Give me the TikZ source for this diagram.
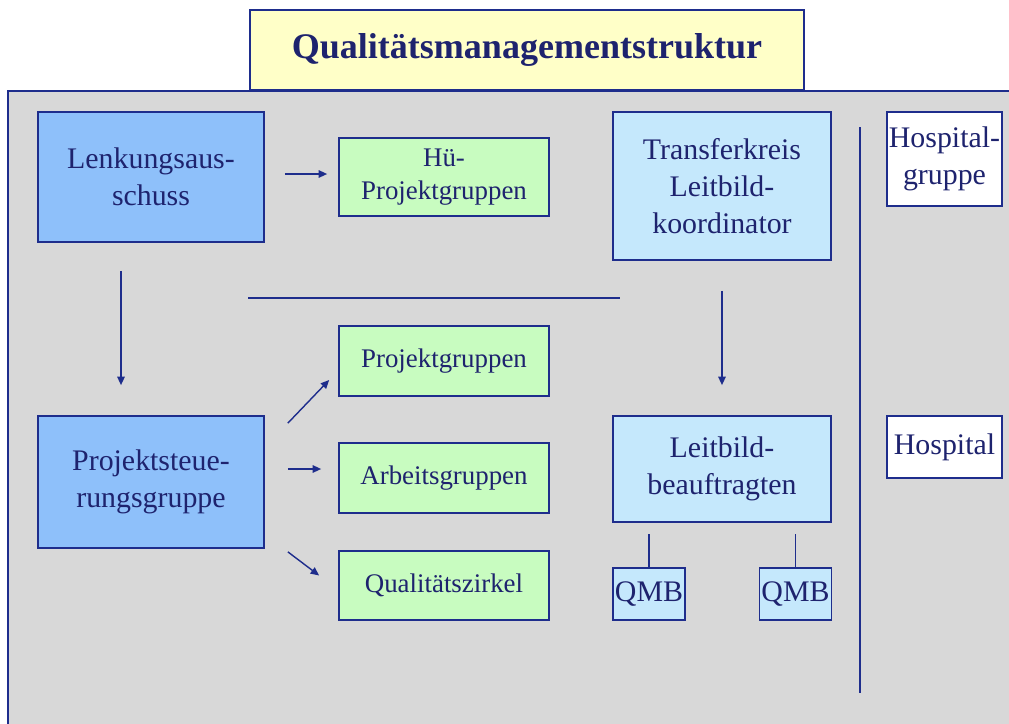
\documentclass[tikz,border=0pt]{standalone}
\usepackage{fontspec}
\setmainfont{Liberation Serif}
\usetikzlibrary{arrows.meta}

\definecolor{qmnavy}{RGB}{30,45,140}
\definecolor{qmtext}{RGB}{30,35,110}
\definecolor{qmgray}{RGB}{216,216,216}
\definecolor{qmblue}{RGB}{142,192,250}
\definecolor{qmcyan}{RGB}{197,232,252}
\definecolor{qmgreen}{RGB}{200,252,192}
\definecolor{qmyellow}{RGB}{255,255,200}

\tikzset{
  box/.style={draw=qmnavy, line width=1pt, text=qmtext, align=center, inner sep=0pt,
    font=\fontsize{17}{21}\selectfont},
  leadbox/.style={box, fill=qmblue, minimum width=4.52cm},
  groupbox/.style={box, fill=qmgreen, minimum width=4.2cm, minimum height=1.4cm,
    font=\fontsize{15.3}{19}\selectfont},
  leitbox/.style={box, fill=qmcyan},
  hospbox/.style={box, fill=white, minimum width=2.3cm},
  arr/.style={-{Triangle[length=0.17cm,width=0.15cm]}, draw=qmnavy, line width=0.8pt},
  conn/.style={draw=qmnavy, line width=1pt}
}

\begin{document}
\begin{tikzpicture}[x=0.02cm, y=-0.02cm]
    \useasboundingbox (0,0) rectangle (1009,724);

    % Draw the grey panel
    \fill[qmgray] (8,91) rectangle (1015,730);
    \draw[conn] (8,730) -- (8,91) -- (1015,91);

    % Title
    \node[box, fill=qmyellow, minimum width=11.08cm, minimum height=1.6cm,
      font=\fontsize{20.5}{24}\selectfont\bfseries] (title) at (527,50) {Qualitätsmanagementstruktur};

    % Steering boxes on the left
    \node[leadbox, minimum height=2.6cm] (lenk) at (151,177) {Lenkungsaus-\\schuss};
    \node[leadbox, minimum height=2.64cm] (steu) at (151,482) {Projektsteue-\\rungsgruppe};

    % Groups in the middle
    \node[groupbox, minimum height=1.56cm] (hue) at (444,177) {Hü-\\Projektgruppen};
    \node[groupbox] (proj) at (444,361) {Projektgruppen};
    \node[groupbox] (arb) at (444,478) {Arbeitsgruppen};
    \node[groupbox, minimum height=1.38cm] (qz) at (444,585.5) {Qualitätszirkel};

    % Leitbild column
    \node[leitbox, minimum width=4.36cm, minimum height=2.96cm] (trans) at (722,186) {Transferkreis\\Leitbild-\\koordinator};
    \node[leitbox, minimum width=4.36cm, minimum height=2.12cm] (leit) at (722,469) {Leitbild-\\beauftragten};
    \node[leitbox, minimum width=1.44cm, minimum height=1.04cm] (qmb1) at (649,594) {QMB};
    \node[leitbox, minimum width=1.44cm, minimum height=1.04cm] (qmb2) at (795.5,594) {QMB};

    % Hospital column
    \node[hospbox, minimum height=1.88cm] (hgrp) at (944.5,159) {Hospital-\\gruppe};
    \node[hospbox, minimum height=1.24cm] (hosp) at (944.5,447) {Hospital};

    % Separating lines
    \draw[conn] (248,298) -- (620,298);
    \draw[conn] (860,127) -- (860,693);

    % Arrows
    \draw[arr, shorten <=0.4cm, shorten >=0.22cm] (lenk.east |- 0,174) -- (hue.west |- 0,174);
    \draw[arr, shorten <=0.56cm, shorten >=0.6cm] ([xshift=-0.6cm]lenk.south) -- ([xshift=-0.6cm]steu.north);
    \draw[arr, shorten <=0.6cm, shorten >=0.6cm] (trans.south) -- (leit.north);
    \draw[arr] ([shift={(23,8)}]steu.north east) -- ([shift={(-9,19)}]proj.west);
    \draw[arr] ([shift={(23,-13)}]steu.east) -- ([shift={(-17,-9)}]arb.west);
    \draw[arr] ([shift={(23,3)}]steu.south east) -- ([shift={(-19,-10)}]qz.west);

    % QMB links
    \draw[conn, shorten >=0.22cm] (qmb1.north) -- (qmb1.north |- leit.south);
    \draw[conn, shorten >=0.22cm] (qmb2.north) -- (qmb2.north |- leit.south);
\end{tikzpicture}
\end{document}
